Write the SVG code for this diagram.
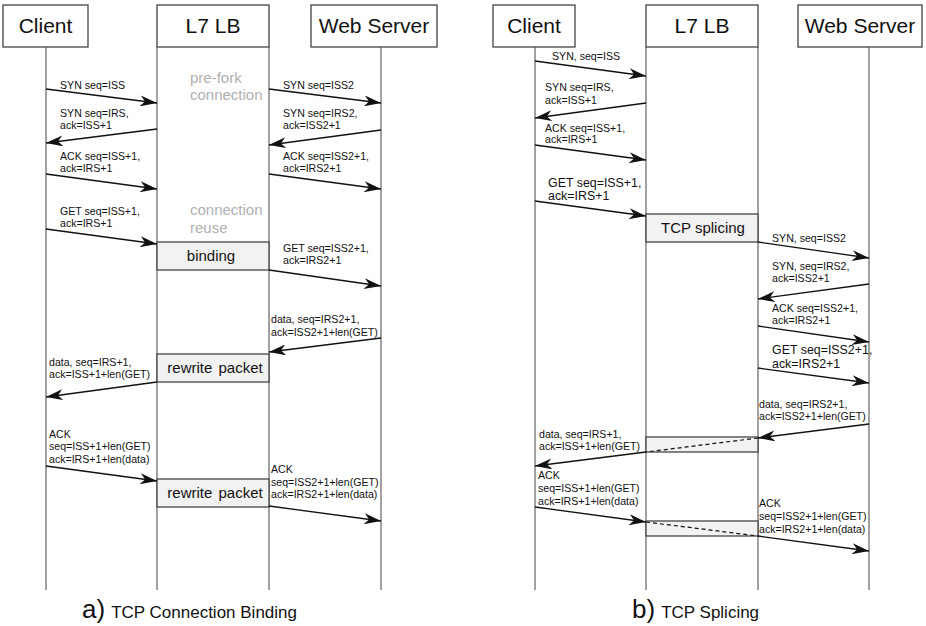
<svg xmlns="http://www.w3.org/2000/svg" width="926" height="626" viewBox="0 0 926 626">
  <style>
    .hdr { fill: #fff; stroke: #444; stroke-width: 1.3; }
    .hdrt { font-family: "Liberation Sans", Arial, sans-serif; font-size: 21px; fill: #111; text-anchor: middle; }
    .life { stroke: #555; stroke-width: 1.1; fill: none; }
    .act { fill: #f2f2f2; stroke: #444; stroke-width: 1.3; }
    .actt { font-family: "Liberation Sans", Arial, sans-serif; font-size: 15px; fill: #111; text-anchor: middle; }
    .msg { stroke: #111; stroke-width: 1.3; fill: none; marker-end: url(#ah); }
    .dash { stroke: #111; stroke-width: 1.2; stroke-dasharray: 4 3; fill: none; }
    .lbl { font-family: "Liberation Sans", Arial, sans-serif; font-size: 10.6px; fill: #111; }
    .lblb { font-family: "Liberation Sans", Arial, sans-serif; font-size: 12.4px; fill: #111; }
    .note { font-family: "Liberation Sans", Arial, sans-serif; font-size: 15px; fill: #b0b0b0; }
    .cap { font-family: "Liberation Sans", Arial, sans-serif; font-size: 17px; fill: #111; }
    .capl { font-family: "Liberation Sans", Arial, sans-serif; font-size: 26px; fill: #111; }
  </style>
  <defs>
    <!-- barbed arrowhead, tip sits on the target lifeline -->
    <marker id="ah" viewBox="0 0 17 11" refX="17" refY="5.5" markerWidth="17" markerHeight="11" markerUnits="userSpaceOnUse" orient="auto">
      <path d="M0,0 L17,5.5 L0,11 L5,5.5 Z" fill="#111"/>
    </marker>
  </defs>

  <rect width="926" height="626" fill="#fff"/>

  <!-- ===== a) TCP Connection Binding ===== -->
  <g id="a-client">
    <rect class="hdr" x="3" y="5" width="85" height="42"/>
    <text class="hdrt" x="45.5" y="33">Client</text>
    <line class="life" x1="46" y1="47" x2="46" y2="590"/>
  </g>
  <g id="a-lb">
    <rect class="hdr" x="157" y="5" width="112" height="42"/>
    <text class="hdrt" x="213" y="33">L7 LB</text>
    <line class="life" x1="157" y1="47" x2="157" y2="590"/>
    <line class="life" x1="269" y1="47" x2="269" y2="590"/>
  </g>
  <g id="a-server">
    <rect class="hdr" x="311" y="5" width="126" height="42"/>
    <text class="hdrt" x="374" y="33">Web Server</text>
    <line class="life" x1="381" y1="47" x2="381" y2="590"/>
  </g>
  <g id="a-binding">
    <rect class="act" x="157" y="242" width="112" height="28"/>
    <text class="actt" x="211" y="261">binding</text>
  </g>
  <g id="a-rewrite1">
    <rect class="act" x="157" y="354" width="112" height="28"/>
    <text class="actt" x="215" y="373" word-spacing="2">rewrite packet</text>
  </g>
  <g id="a-rewrite2">
    <rect class="act" x="157" y="479" width="112" height="28"/>
    <text class="actt" x="215" y="498" word-spacing="2">rewrite packet</text>
  </g>

  <text class="note" x="190" y="83">pre-fork</text>
  <text class="note" x="190" y="100">connection</text>
  <text class="note" x="190" y="215">connection</text>
  <text class="note" x="190" y="233">reuse</text>

  <g id="a-connectors">
    <line class="msg" x1="46" y1="89" x2="157" y2="103"/>
    <line class="msg" x1="157" y1="129" x2="46" y2="143"/>
    <line class="msg" x1="46" y1="174" x2="157" y2="189"/>
    <line class="msg" x1="46" y1="229" x2="157" y2="244"/>
    <line class="msg" x1="269" y1="89" x2="381" y2="103"/>
    <line class="msg" x1="381" y1="130" x2="269" y2="145"/>
    <line class="msg" x1="269" y1="174" x2="381" y2="189"/>
    <line class="msg" x1="269" y1="270" x2="381" y2="286"/>
    <line class="msg" x1="381" y1="338" x2="269" y2="352"/>
    <line class="msg" x1="157" y1="382" x2="46" y2="397"/>
    <line class="msg" x1="46" y1="466" x2="157" y2="481"/>
    <line class="msg" x1="269" y1="506" x2="381" y2="521"/>
  </g>

  <g id="a-labels">
    <text class="lbl" x="60" y="89">SYN seq=ISS</text>
    <text class="lbl" x="60" y="117">SYN seq=IRS,</text>
    <text class="lbl" x="60" y="129">ack=ISS+1</text>
    <text class="lbl" x="60" y="160">ACK seq=ISS+1,</text>
    <text class="lbl" x="60" y="172">ack=IRS+1</text>
    <text class="lbl" x="60" y="215">GET seq=ISS+1,</text>
    <text class="lbl" x="60" y="227">ack=IRS+1</text>
    <text class="lbl" x="283" y="89">SYN seq=ISS2</text>
    <text class="lbl" x="283" y="117">SYN seq=IRS2,</text>
    <text class="lbl" x="283" y="129">ack=ISS2+1</text>
    <text class="lbl" x="283" y="160">ACK seq=ISS2+1,</text>
    <text class="lbl" x="283" y="172">ack=IRS2+1</text>
    <text class="lbl" x="283" y="252">GET seq=ISS2+1,</text>
    <text class="lbl" x="283" y="264">ack=IRS2+1</text>
    <text class="lbl" x="271" y="323">data, seq=IRS2+1,</text>
    <text class="lbl" x="271" y="336">ack=ISS2+1+len(GET)</text>
    <text class="lbl" x="49" y="366">data, seq=IRS+1,</text>
    <text class="lbl" x="49" y="378">ack=ISS+1+len(GET)</text>
    <text class="lbl" x="49" y="438">ACK</text>
    <text class="lbl" x="49" y="450">seq=ISS+1+len(GET)</text>
    <text class="lbl" x="49" y="463">ack=IRS+1+len(data)</text>
    <text class="lbl" x="271" y="473">ACK</text>
    <text class="lbl" x="271" y="486">seq=ISS2+1+len(GET)</text>
    <text class="lbl" x="271" y="498">ack=IRS2+1+len(data)</text>
  </g>

  <text x="82" y="618"><tspan class="capl">a)</tspan><tspan class="cap" dx="6">TCP Connection Binding</tspan></text>

  <!-- ===== b) TCP Splicing ===== -->
  <g id="b-client">
    <rect class="hdr" x="493" y="5" width="82" height="42"/>
    <text class="hdrt" x="534" y="33">Client</text>
    <line class="life" x1="535" y1="47" x2="535" y2="590"/>
  </g>
  <g id="b-lb">
    <rect class="hdr" x="646" y="5" width="112" height="42"/>
    <text class="hdrt" x="702" y="33">L7 LB</text>
    <line class="life" x1="646" y1="47" x2="646" y2="590"/>
    <line class="life" x1="758" y1="47" x2="758" y2="590"/>
  </g>
  <g id="b-server">
    <rect class="hdr" x="798" y="5" width="124" height="42"/>
    <text class="hdrt" x="860" y="33">Web Server</text>
    <line class="life" x1="869" y1="47" x2="869" y2="590"/>
  </g>
  <g id="b-splicing">
    <rect class="act" x="646" y="214" width="112" height="28"/>
    <text class="actt" x="703" y="233">TCP splicing</text>
  </g>
  <g id="b-relay1">
    <rect class="act" x="646" y="437" width="112" height="15"/>
  </g>
  <g id="b-relay2">
    <rect class="act" x="646" y="521" width="112" height="15"/>
  </g>

  <g id="b-connectors">
    <line class="msg" x1="535" y1="61" x2="646" y2="76"/>
    <line class="msg" x1="646" y1="103" x2="535" y2="118"/>
    <line class="msg" x1="535" y1="145" x2="646" y2="160"/>
    <line class="msg" x1="535" y1="201" x2="646" y2="216"/>
    <line class="msg" x1="758" y1="242" x2="869" y2="258"/>
    <line class="msg" x1="869" y1="284" x2="758" y2="299"/>
    <line class="msg" x1="758" y1="326" x2="869" y2="342"/>
    <line class="msg" x1="758" y1="368" x2="869" y2="383"/>
    <line class="msg" x1="869" y1="424" x2="758" y2="438"/>
    <line class="dash" x1="758" y1="438" x2="646" y2="452"/>
    <line class="msg" x1="646" y1="452" x2="535" y2="466"/>
    <line class="msg" x1="535" y1="507" x2="646" y2="522"/>
    <line class="dash" x1="646" y1="522" x2="758" y2="536"/>
    <line class="msg" x1="758" y1="536" x2="869" y2="551"/>
  </g>

  <g id="b-labels">
    <text class="lbl" x="552" y="60">SYN, seq=ISS</text>
    <text class="lbl" x="545" y="91">SYN seq=IRS,</text>
    <text class="lbl" x="545" y="104">ack=ISS+1</text>
    <text class="lbl" x="545" y="132">ACK seq=ISS+1,</text>
    <text class="lbl" x="545" y="143">ack=IRS+1</text>
    <text class="lblb" x="548" y="187">GET seq=ISS+1,</text>
    <text class="lblb" x="548" y="200">ack=IRS+1</text>
    <text class="lbl" x="772" y="242">SYN, seq=ISS2</text>
    <text class="lbl" x="772" y="270">SYN, seq=IRS2,</text>
    <text class="lbl" x="772" y="282">ack=ISS2+1</text>
    <text class="lbl" x="772" y="312">ACK seq=ISS2+1,</text>
    <text class="lbl" x="772" y="324">ack=IRS2+1</text>
    <text class="lblb" x="772" y="354">GET seq=ISS2+1,</text>
    <text class="lblb" x="772" y="368">ack=IRS2+1</text>
    <text class="lbl" x="759" y="408">data, seq=IRS2+1,</text>
    <text class="lbl" x="759" y="420">ack=ISS2+1+len(GET)</text>
    <text class="lbl" x="539" y="438">data, seq=IRS+1,</text>
    <text class="lbl" x="539" y="450">ack=ISS+1+len(GET)</text>
    <text class="lbl" x="538" y="479">ACK</text>
    <text class="lbl" x="538" y="492">seq=ISS+1+len(GET)</text>
    <text class="lbl" x="538" y="505">ack=IRS+1+len(data)</text>
    <text class="lbl" x="759" y="507">ACK</text>
    <text class="lbl" x="759" y="520">seq=ISS2+1+len(GET)</text>
    <text class="lbl" x="759" y="533">ack=IRS2+1+len(data)</text>
  </g>

  <text x="632" y="618"><tspan class="capl">b)</tspan><tspan class="cap" dx="6">TCP Splicing</tspan></text>
</svg>
